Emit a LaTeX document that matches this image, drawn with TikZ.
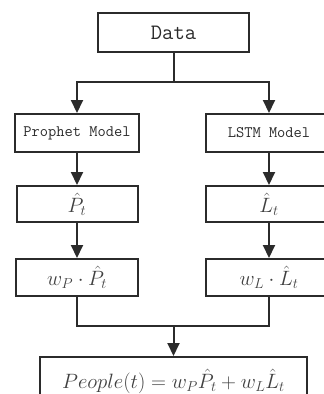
\documentclass[tikz,border=0pt]{standalone}
\usetikzlibrary{arrows.meta}
\definecolor{linegray}{HTML}{2B2B2B}
\definecolor{mathgray}{HTML}{404040}
\begin{document}
\begin{tikzpicture}[x=1pt,y=-1pt,
        box/.style={rectangle,draw=linegray,line width=2pt,text=linegray,inner sep=0pt},
        mbox/.style={box,text=mathgray,font=\fontsize{22}{26}\selectfont},
        arr/.style={draw=linegray,line width=2pt,-{Triangle[width=12pt,length=13pt]}},
        ln/.style={draw=linegray,line width=2pt}]
        \useasboundingbox (0,0) rectangle (324,394);
        \node[box,minimum height=39pt,minimum width=151pt,font=\fontsize{22}{26}\ttfamily] (data) at (173.5,32.5) {Data};
        \node[box,minimum height=38pt,minimum width=124pt,font=\fontsize{16}{19}\ttfamily] (prophet) at (77,133) {Prophet Model};
        \node[box,minimum height=38pt,minimum width=126pt,font=\fontsize{16}{19}\ttfamily] (lstm) at (269,133) {LSTM Model};
        \node[mbox,minimum height=36pt,minimum width=121pt] (phat) at (77,204) {$\hat{P}_t$};
        \node[mbox,minimum height=36pt,minimum width=126pt] (lhat) at (269,204) {$\hat{L}_t$};
        \node[mbox,minimum height=37pt,minimum width=122pt] (wp) at (77,277.5) {$w_P\cdot\hat{P}_t$};
        \node[mbox,minimum height=37pt,minimum width=126pt] (wl) at (269,277.5) {$w_L\cdot\hat{L}_t$};
        \node[mbox,minimum height=48pt,minimum width=267pt] (people) at (173.5,381) {$People(t)=w_P\hat{P}_t+w_L\hat{L}_t$};
        \coordinate (split) at (173.5,82);
        \coordinate (merge) at (173.5,326);
        \draw[ln] (data) -- (split);
        \draw[arr] (split) -| (prophet);
        \draw[arr] (split) -| (lstm);
        \draw[arr] (prophet) -- (phat);
        \draw[arr] (lstm) -- (lhat);
        \draw[arr] (phat) -- (wp);
        \draw[arr] (lhat) -- (wl);
        \draw[ln] (wp) |- (merge);
        \draw[ln] (wl) |- (merge);
        \draw[arr] (merge) -- (people);
    \end{tikzpicture}
\end{document}
